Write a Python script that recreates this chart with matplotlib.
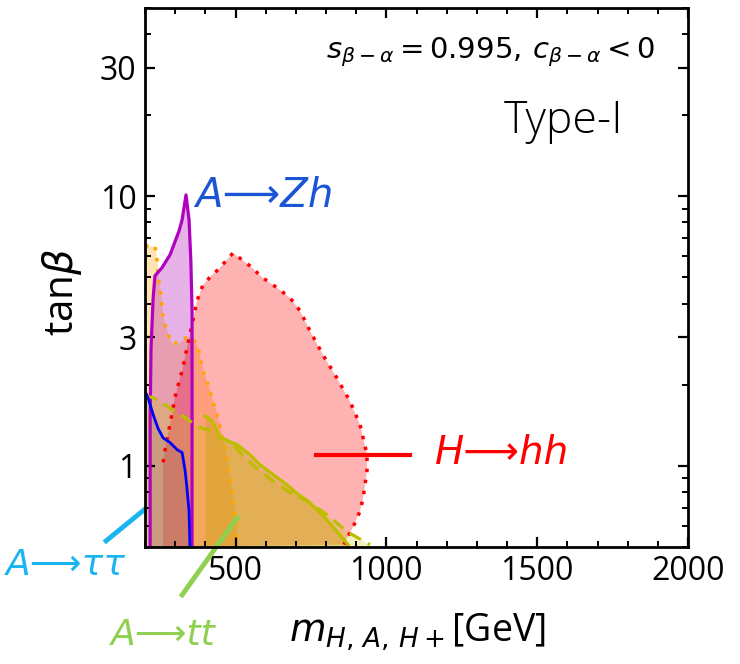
import numpy as np
import matplotlib
matplotlib.use('Agg')
import matplotlib.pyplot as plt
from matplotlib.ticker import FixedLocator, MultipleLocator, NullFormatter, FixedFormatter

plt.rcParams['font.family'] = ['Open Sans', 'DejaVu Sans']
plt.rcParams['mathtext.fontset'] = 'dejavusans'

# --- region boundaries (m in GeV, tan beta) ---
# orange dotted region (peach fill)
peach_x = [200, 233, 240, 243, 253, 260, 273, 289, 309, 333, 359, 376, 392, 405,
           422, 439, 455, 472, 482, 492, 498, 505]
peach_y = [6.55, 6.55, 5.81, 5.11, 4.31, 3.54, 3.17, 2.86, 2.86, 2.98, 2.98, 2.74,
           2.25, 2.07, 1.79, 1.55, 1.30, 1.07, 0.90, 0.76, 0.64, 0.54]

# A -> Zh magenta region
zh_x = [217, 217, 220, 227, 233, 256, 283, 313, 323, 336, 346, 352, 356, 356]
zh_y = [0.5, 1.51, 2.74, 4.20, 5.07, 5.43, 6.07, 7.45, 8.18, 10.13, 8.18, 5.76, 3.76, 0.5]

# H -> hh red dotted region
hh_x = [260, 260, 266, 276, 289, 299, 316, 323, 339, 356, 372, 392, 422, 442, 492,
        548, 591, 638, 681, 714, 747, 790, 836, 879, 913, 936, 936, 923, 913, 889,
        870, 860]
hh_y = [0.5, 1.03, 1.14, 1.30, 1.55, 1.79, 2.12, 2.25, 2.74, 3.34, 4.09, 4.69, 5.11,
        5.34, 6.17, 5.52, 4.98, 4.58, 4.20, 3.76, 3.17, 2.58, 2.12, 1.74, 1.42, 1.10,
        0.96, 0.76, 0.68, 0.59, 0.54, 0.51]

# A -> tt dashed / solid olive curves
tt_dash_x = [200, 227, 260, 293, 326, 359, 389, 422, 455, 488, 525, 571, 624, 671,
             737, 803, 870, 946]
tt_dash_y = [1.82, 1.79, 1.71, 1.61, 1.53, 1.44, 1.38, 1.35, 1.27, 1.22, 1.09, 0.98,
             0.88, 0.81, 0.74, 0.66, 0.57, 0.51]
tt_sol_x = [399, 422, 439, 449, 472, 505, 548, 581, 624, 671, 704, 747, 803, 846, 873]
tt_sol_y = [1.53, 1.47, 1.35, 1.27, 1.24, 1.20, 1.10, 1.01, 0.93, 0.85, 0.79, 0.73,
            0.63, 0.555, 0.51]

# blue curve
blue_x = [200, 210, 227, 243, 260, 283, 306, 323, 333, 339, 346, 349]
blue_y = [1.90, 1.79, 1.55, 1.38, 1.27, 1.22, 1.15, 1.12, 0.96, 0.83, 0.68, 0.5]

x_ticks = [500, 1000, 1500, 2000]
y_ticks = [1, 3, 10, 30]
y_tick_labels = ['1', '3', '10', '30']
y_min, y_max = 0.5, 50

fig = plt.figure(figsize=(7.4, 6.64), dpi=100)
ax = fig.add_axes([145/740, 117/664, 543/740, 539/664])

# fills
ax.fill_between(peach_x, peach_y, y_min, color='#FFA500', alpha=0.3, lw=0)
ax.fill(hh_x, hh_y, color='#FF0000', alpha=0.3, lw=0)
ax.fill(zh_x, zh_y, color='#B000B0', alpha=0.3, lw=0)
ax.fill_between(tt_dash_x, tt_dash_y, y_min, color='#C8C800', alpha=0.25, lw=0)
ax.fill_between(tt_sol_x, tt_sol_y, y_min, color='#C8A000', alpha=0.35, lw=0)
ax.fill_between(blue_x, blue_y, y_min, color='#404070', alpha=0.12, lw=0)

# boundaries
ax.plot(peach_x, peach_y, color='#FFA500', lw=2.5, ls=(0, (1, 2.2)))
ax.plot(hh_x[1:], hh_y[1:], color='#FF0000', lw=2.5, ls=(0, (1, 2.2)))
ax.plot(zh_x, zh_y, color='#B000C0', lw=2.3)
ax.plot(tt_dash_x, tt_dash_y, color='#BDBD00', lw=2.3, ls=(0, (4, 2.5)))
ax.plot(tt_sol_x, tt_sol_y, color='#BDBD00', lw=2.3)
ax.plot(blue_x, blue_y, color='#0000FF', lw=2)

ax.set_yscale('log')
ax.set_xlim(200, 2000)
ax.set_ylim(y_min, y_max)

ax.xaxis.set_major_locator(FixedLocator(x_ticks))
ax.xaxis.set_minor_locator(MultipleLocator(100))
ax.yaxis.set_major_locator(FixedLocator(y_ticks))
ax.yaxis.set_major_formatter(FixedFormatter(y_tick_labels))
minor_y = [0.5, 0.6, 0.7, 0.8, 0.9, 2, 4, 5, 6, 7, 8, 9, 20, 40, 50]
ax.yaxis.set_minor_locator(FixedLocator(minor_y))
ax.yaxis.set_minor_formatter(NullFormatter())

ax.tick_params(which='both', direction='in', top=True, right=True, labelsize=23, pad=6)
ax.tick_params(which='major', length=7, width=1.6)
ax.tick_params(which='minor', length=4, width=1.4)
for s in ax.spines.values():
    s.set_linewidth(2)

# labels
fig.text(62/740, 1 - 292/664, r'tan$\beta$', rotation=90, ha='center', va='center', fontsize=29)
fig.text(417/740, 1 - 632/664, r'$m_{H,\,A,\,H+}$[GeV]', ha='center', va='center', fontsize=27)

ax.text(0.939, 0.918, r'$s_{\beta-\alpha}=0.995,\, c_{\beta-\alpha}<0$', transform=ax.transAxes,
        ha='right', va='center', fontsize=21)
ax.text(0.77, 0.789, 'Type-I', transform=ax.transAxes, ha='center', va='center',
        fontsize=32, fontweight='light')

# channel annotations
arrow_font = ['DejaVu Sans']
ax.text(594, 10.05, 'A⟶Zh', color='#1B55D5', fontsize=29, style='italic',
        ha='center', va='center', family=arrow_font)
ax.plot([767, 1078], [1.098, 1.098], color='#FF0000', lw=3)
ax.text(1383, 1.117, 'H⟶hh', color='#FF0000', fontsize=28, style='italic',
        ha='center', va='center', family=arrow_font)
ax.plot([71, 197], [0.527, 0.687], color='#1AB4F0', lw=3.5, clip_on=False)
ax.text(-62, 0.429, 'A⟶ττ', color='#1AB4F0', fontsize=26, style='italic',
        ha='center', va='center', family=arrow_font)
ax.plot([323, 505], [0.332, 0.641], color='#90D050', lw=3.5, clip_on=False)
ax.text(260, 0.236, 'A⟶tt', color='#90D050', fontsize=26, style='italic',
        ha='center', va='center', family=arrow_font)

fig.savefig('out.png', dpi=100)
